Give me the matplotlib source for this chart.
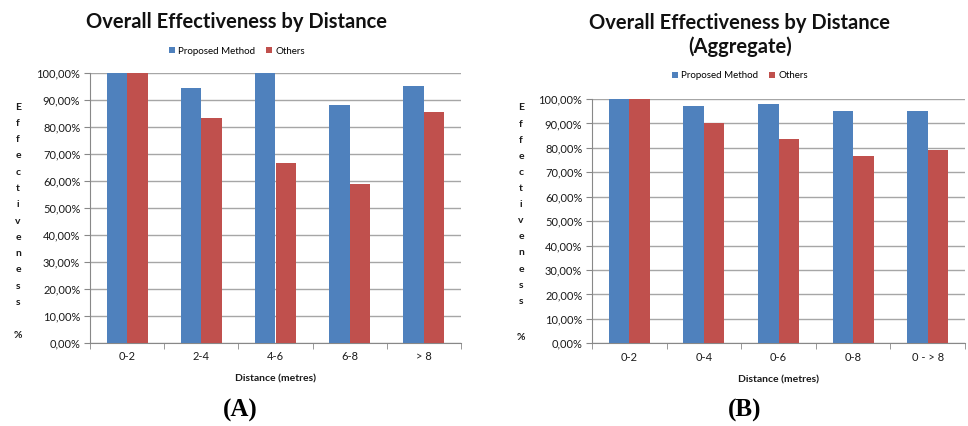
import matplotlib.pyplot as plt
import numpy as np
from matplotlib.ticker import FuncFormatter, FixedLocator

plt.rcParams['font.family'] = ['Lato', 'DejaVu Sans']

series_names = ['Proposed Method', 'Others']
colors = ['#4F81BD', '#C0504D']

# per-distance effectiveness (%)
dist_labels = ['0-2', '2-4', '4-6', '6-8', '> 8']
dist_proposed = [100.0, 94.4, 100.0, 88.2, 95.0]
dist_others = [100.0, 83.3, 66.7, 58.8, 85.7]

# cumulative effectiveness (%)
agg_labels = ['0-2', '0-4', '0-6', '0-8', '0 - > 8']
agg_proposed = [100.0, 97.1, 97.8, 95.2, 95.2]
agg_others = [100.0, 90.2, 83.6, 76.5, 79.0]

W, H = 968, 426
fig = plt.figure(figsize=(W / 100, H / 100), dpi=100)


def px(x, y):
    return x / W, 1 - y / H


def pct(v, pos):
    return ('%.2f%%' % v).replace('.', ',')


def draw_chart(rect, labels, a, b, title, title_y, legend_y, ylab_x, ylab_top, ylab_step, pct_y, tag, tag_x):
    ax = fig.add_axes(rect)
    x = np.arange(len(labels))
    w = 0.275
    ax.bar(x - w / 2, a, w, color=colors[0], label=series_names[0], zorder=3)
    ax.bar(x + w / 2, b, w, color=colors[1], label=series_names[1], zorder=3)
    ax.set_xlim(-0.5, len(labels) - 0.5)
    ax.set_ylim(0, 100)
    ax.set_yticks(np.arange(0, 101, 10))
    ax.yaxis.set_major_formatter(FuncFormatter(pct))
    ax.set_xticks(x)
    ax.set_xticklabels(labels)
    ax.xaxis.set_minor_locator(FixedLocator(np.arange(-0.5, len(labels), 1)))
    ax.tick_params(axis='x', which='major', length=0, labelsize=8, pad=6, colors='#1a1a1a')
    ax.tick_params(axis='x', which='minor', length=4, color='#888888')
    ax.tick_params(axis='y', length=4, labelsize=8, pad=3, colors='#888888', labelcolor='#1a1a1a')
    ax.grid(axis='y', color='#A6A6A6', linewidth=1, zorder=0)
    for s in ['top', 'right']:
        ax.spines[s].set_visible(False)
    for s in ['left', 'bottom']:
        ax.spines[s].set_color('#888888')
    ax.set_xlabel('Distance (metres)', fontsize=7.5, fontweight='bold', labelpad=9, color='#1a1a1a')

    cx = rect[0] + rect[2] / 2 - 0.04
    fig.text(cx, 1 - title_y / H, title, ha='center', va='center', fontsize=14.5,
             fontweight='bold', linespacing=1.25, color='#111111')
    fig.legend(handles=ax.containers, labels=series_names, loc='center',
               bbox_to_anchor=(cx, 1 - legend_y / H), ncol=2, frameon=False,
               fontsize=7, handlelength=0.6, handleheight=0.6, handletextpad=0.3,
               columnspacing=1.2)

    for i, ch in enumerate('Effectiveness'):
        fig.text(*px(ylab_x, ylab_top + i * ylab_step), ch, ha='center', va='center',
                 fontsize=7.5, fontweight='bold', color='#1a1a1a')
    fig.text(*px(ylab_x, pct_y), '%', ha='center', va='center', fontsize=7.5,
             fontweight='bold', color='#1a1a1a')
    fig.text(*px(tag_x, 410), tag, ha='center', va='center', fontsize=18,
             fontweight='bold', family='Liberation Serif')
    return ax


draw_chart([90 / W, 1 - 343 / H, 371 / W, 270 / H], dist_labels, dist_proposed, dist_others,
           'Overall Effectiveness by Distance', 22, 51, 18, 107, 16.3, 336, '(A)', 240)
draw_chart([592 / W, 1 - 343.3 / H, 373 / W, 244.3 / H], agg_labels, agg_proposed, agg_others,
           'Overall Effectiveness by Distance\n(Aggregate)', 35, 76, 521, 108, 16.1, 337, '(B)', 745)

fig.savefig('out.png', dpi=100)
